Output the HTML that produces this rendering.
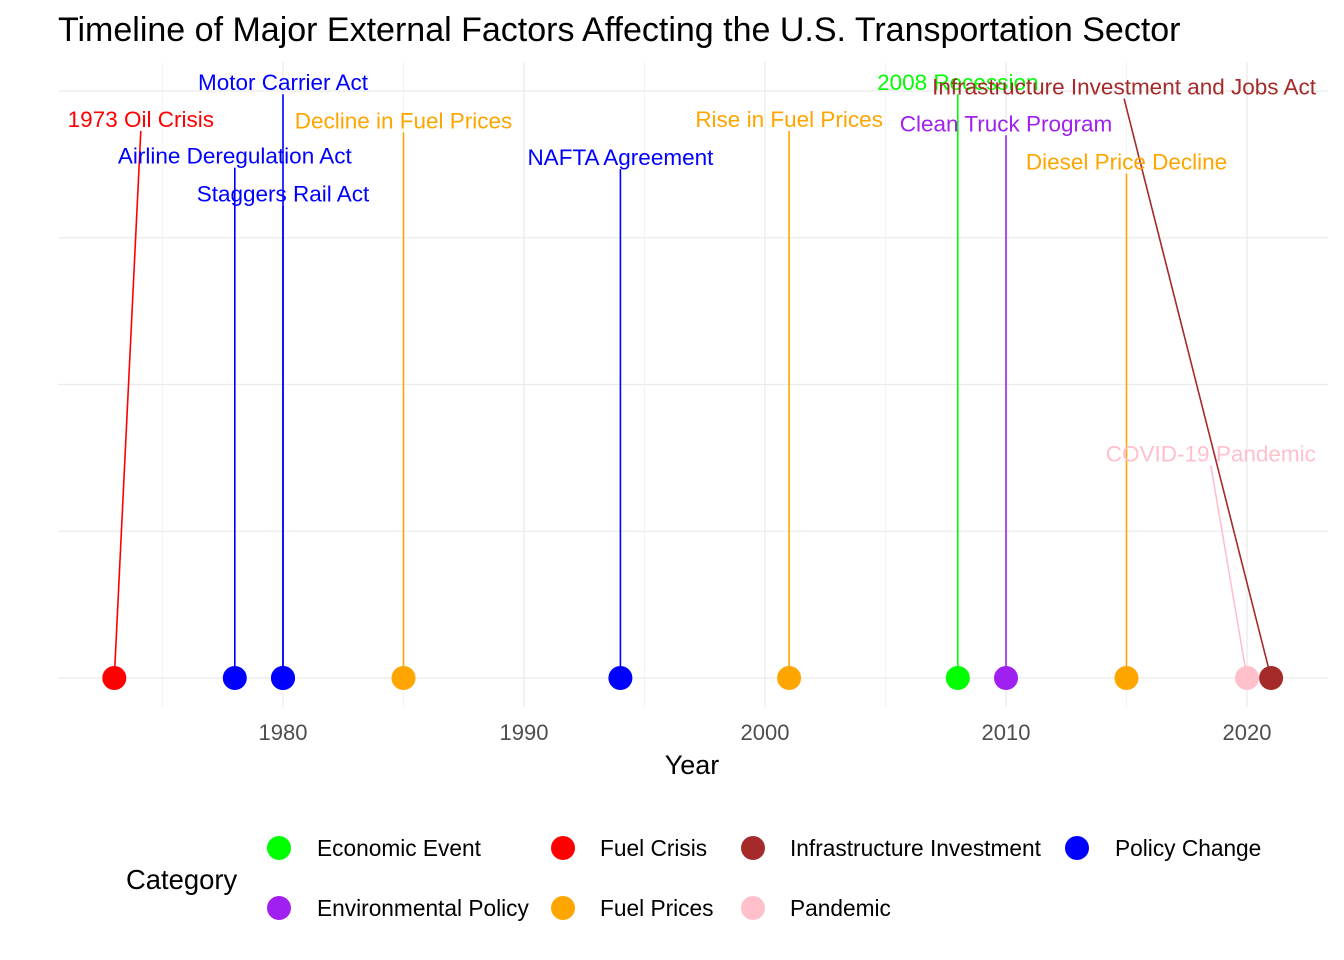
<!DOCTYPE html>
<html><head><meta charset="utf-8"><style>
body{margin:0;background:#fff;font-family:"Liberation Sans",sans-serif}
svg{display:block}
</style></head><body>
<svg id="chart" width="1344" height="960" font-family="Liberation Sans, sans-serif">
<text x="58" y="41" font-size="34" fill="#000">Timeline of Major External Factors Affecting the U.S. Transportation Sector</text>
<g id="grid"></g><g id="marks"></g><g id="axis"></g>
<text x="692" y="774" font-size="27" text-anchor="middle" fill="#000">Year</text>
<g id="legend"></g>
</svg>
<script>
const events=["1973 Oil Crisis","Airline Deregulation Act","Motor Carrier Act","Staggers Rail Act","Decline in Fuel Prices","NAFTA Agreement","Rise in Fuel Prices","2008 Recession","Clean Truck Program","Diesel Price Decline","COVID-19 Pandemic","Infrastructure Investment and Jobs Act"];
const years=[1973,1978,1980,1980,1985,1994,2001,2008,2010,2015,2020,2021];
const categories=["Fuel Crisis","Policy Change","Policy Change","Policy Change","Fuel Prices","Policy Change","Fuel Prices","Economic Event","Environmental Policy","Fuel Prices","Pandemic","Infrastructure Investment"];
const labelYears=[1974.1,1978,1980,1980,1985,1994,2001,2008,2010,2015,2018.5,2014.9];
const labelHeights=[3.81,3.56,4.06,3.30,3.80,3.55,3.81,4.06,3.78,3.52,1.53,4.03];
const xTicks=[1980,1990,2000,2010,2020];
const legendCats=["Economic Event","Fuel Crisis","Infrastructure Investment","Policy Change","Environmental Policy","Fuel Prices","Pandemic"];
const colors={"Economic Event":"#00FF00","Fuel Crisis":"#FF0000","Infrastructure Investment":"#A52A2A","Policy Change":"#0000FF","Environmental Policy":"#A020F0","Fuel Prices":"#FFA500","Pandemic":"#FFC0CB"};
const NS="http://www.w3.org/2000/svg";
const X=y=>283+(y-1980)*24.1;
const Y=v=>678-v*146.75;
function mk(p,t,a){const e=document.createElementNS(NS,t);for(const k in a)e.setAttribute(k,a[k]);p.appendChild(e);return e;}
const grid=document.getElementById('grid'),marks=document.getElementById('marks'),axis=document.getElementById('axis'),legend=document.getElementById('legend');
for(let v=0;v<=4;v++){const l=mk(grid,'line',{x1:58,x2:1328,y1:Y(v),y2:Y(v),stroke:'#EBEBEB','stroke-width':1.3});

}
for(let y=1975;y<=2015;y+=10){const l=mk(grid,'line',{x1:X(y),x2:X(y),y1:62,y2:707,stroke:'#F3F3F3','stroke-width':1});

}
xTicks.forEach(t=>{const l=mk(grid,'line',{x1:X(t),x2:X(t),y1:62,y2:707,stroke:'#EBEBEB','stroke-width':1.3});


const tx=mk(axis,'text',{x:X(t),y:740,'font-size':22,fill:'#4D4D4D','text-anchor':'middle'});tx.textContent=t;

});
events.forEach((ev,i)=>{const c=colors[categories[i]];
const s=mk(marks,'line',{x1:X(years[i]),y1:Y(0),x2:X(labelYears[i]),y2:Y(labelHeights[i])+12,stroke:c,'stroke-width':1.6});

});
events.forEach((ev,i)=>{const c=colors[categories[i]];
const p=mk(marks,'circle',{cx:X(years[i]),cy:Y(0),r:12,fill:c});


const t=mk(marks,'text',{x:X(labelYears[i]),y:Y(labelHeights[i])+8,'font-size':22.5,fill:c,'text-anchor':'middle'});t.textContent=ev;

});
const lt=mk(legend,'text',{x:126,y:889,'font-size':27.4,fill:'#000'});lt.textContent='Category';


const kx=[279,563,753,1077],tx=[317,600,790,1115];
legendCats.forEach((c,i)=>{const col=i<4?i:i-4,row=i<4?0:1,cy=848+row*60;
const k=mk(legend,'circle',{cx:kx[col],cy:cy,r:12,fill:colors[c]});


const t=mk(legend,'text',{x:tx[col],y:cy+8,'font-size':22.7,fill:'#000'});t.textContent=c;

});
</script>
</body></html>
